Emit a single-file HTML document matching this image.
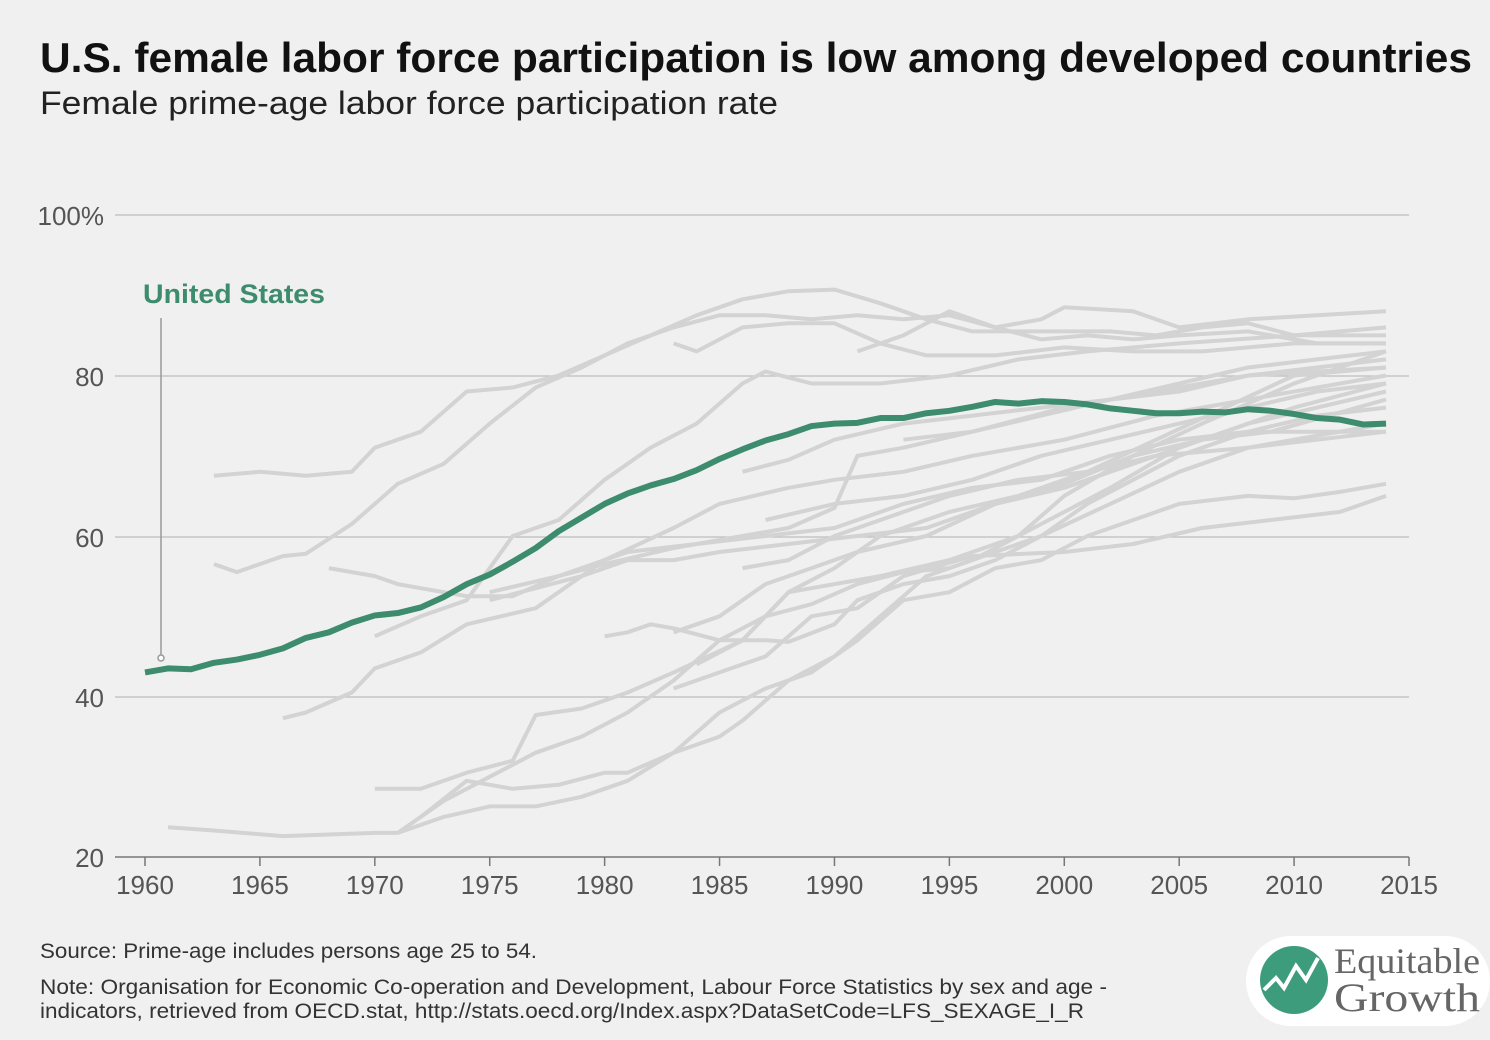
<!DOCTYPE html>
<html><head><meta charset="utf-8"><style>
body{margin:0;background:#f0f0f0;width:1490px;height:1040px;overflow:hidden;font-family:"Liberation Sans",sans-serif}
</style></head><body>
<svg id="s" width="1490" height="1040" xmlns="http://www.w3.org/2000/svg" style="position:absolute;left:0;top:0">
<text x="40" y="72" font-size="42" font-weight="bold" fill="#111" textLength="1432" lengthAdjust="spacingAndGlyphs">U.S. female labor force participation is low among developed countries</text>
<text x="40" y="114" font-size="32" fill="#222" textLength="738" lengthAdjust="spacingAndGlyphs">Female prime-age labor force participation rate</text>
<g stroke="#bdbdbd" stroke-width="1.2">
<line x1="115" x2="1409" y1="215" y2="215"/><line x1="115" x2="1409" y1="376" y2="376"/>
<line x1="115" x2="1409" y1="537" y2="537"/><line x1="115" x2="1409" y1="697" y2="697"/>
</g>
<g font-size="26" fill="#555" text-anchor="end">
<text x="104" y="225">100%</text><text x="104" y="386">80</text><text x="104" y="547">60</text><text x="104" y="707">40</text><text x="104" y="867">20</text>
</g>
<g id="grey" fill="none" stroke="#d3d3d3" stroke-width="4" stroke-linejoin="round"></g>
<line x1="161" y1="318" x2="161" y2="655" stroke="#999" stroke-width="1.5"/>
<circle cx="161" cy="658" r="3" fill="#fff" stroke="#999" stroke-width="1.5"/>
<text x="143" y="303" font-size="27" font-weight="bold" fill="#3d8c6e" textLength="182" lengthAdjust="spacingAndGlyphs">United States</text>
<polyline id="us" fill="none" stroke="#3d8c6e" stroke-width="6" stroke-linejoin="round"/>
<line x1="115" x2="1409" y1="857" y2="857" stroke="#777" stroke-width="1.5"/>
<g id="xt" font-size="26" fill="#555" text-anchor="middle"></g>
<text x="40" y="958" font-size="21" fill="#333" textLength="497" lengthAdjust="spacingAndGlyphs">Source: Prime-age includes persons age 25 to 54.</text>
<text x="40" y="994" font-size="21" fill="#333" textLength="1067" lengthAdjust="spacingAndGlyphs">Note: Organisation for Economic Co-operation and Development, Labour Force Statistics by sex and age -</text>
<text x="40" y="1018" font-size="21" fill="#333" textLength="1044" lengthAdjust="spacingAndGlyphs">indicators, retrieved from OECD.stat, http://stats.oecd.org/Index.aspx?DataSetCode=LFS_SEXAGE_I_R</text>
<rect x="1246" y="936" width="244" height="90" rx="45" fill="#fff"/>
<circle cx="1294" cy="980" r="34" fill="#3d9c7c"/>
<polyline points="1264,990 1276,978 1284,988 1296,966 1306,980 1318,958" fill="none" stroke="#fff" stroke-width="4"/>
<text x="1334" y="973" font-family="Liberation Serif,serif" font-size="36" fill="#666" textLength="146" lengthAdjust="spacingAndGlyphs">Equitable</text>
<text x="1334" y="1011" font-family="Liberation Serif,serif" font-size="40" fill="#666" textLength="146" lengthAdjust="spacingAndGlyphs">Growth</text>
</svg>
<script>
var X=y=>145+(y-1960)*22.982,Y=v=>857-(v-20)*8.025;
var us=[43,43.5,43.4,44.2,44.6,45.2,46,47.3,48,49.2,50.1,50.4,51.1,52.4,54,55.2,56.8,58.5,60.6,62.3,64,65.3,66.3,67.1,68.2,69.6,70.8,71.9,72.7,73.7,74,74.1,74.7,74.7,75.3,75.6,76.1,76.7,76.5,76.8,76.7,76.4,75.9,75.6,75.3,75.3,75.5,75.4,75.8,75.6,75.2,74.7,74.5,73.9,74];
document.getElementById('us').setAttribute('points',us.map((v,i)=>X(1960+i)+','+Y(v)).join(' '));
var G=[
[1963,67.5,1965,68,1967,67.5,1969,68,1970,71,1972,73,1974,78,1976,78.5,1978,80,1980,82.5,1982,85,1984,87.5,1986,89.5,1988,90.5,1990,90.7,1992,89,1994,87,1996,85.5,1998,85.5,2000,85.5,2002,85.5,2004,85,2006,86,2008,86.5,2010,85,2014,85],
[1963,56.5,1964,55.5,1966,57.5,1967,57.8,1969,61.5,1971,66.5,1973,69,1975,74,1977,78.5,1979,81,1981,84,1983,86,1985,87.5,1987,87.5,1989,87,1991,87.5,1993,87,1995,87.5,1997,86,1999,84.5,2001,85,2003,84.5,2005,85,2008,85.5,2011,84,2014,84],
[1966,37.3,1967,38,1969,40.5,1970,43.5,1972,45.5,1974,49,1977,51,1980,57,1983,61,1985,64,1988,66,1990,67,1993,68,1996,70,2000,72,2004,75,2008,77,2014,80],
[1968,56,1970,55,1971,54,1972,53.5,1974,52.5,1976,52.5,1978,55,1980,56.5,1983,58.5,1986,60,1988,61,1990,63.5,1991,70,1993,71,1996,73,2000,76,2004,78,2008,80,2014,81],
[1970,47.5,1972,50,1974,52,1976,60,1978,62,1980,67,1982,71,1984,74,1986,79,1987,80.5,1989,79,1992,79,1995,80,1998,82,2001,83,2005,84,2010,85,2014,86],
[1961,23.7,1963,23.3,1966,22.6,1970,23,1971,23,1973,27,1975,30,1977,33,1979,35,1981,38,1983,42,1985,47,1987,50,1989,51.5,1991,54,1993,55.5,1995,56,1997,58,1999,60,2001,64,2003,67,2005,70,2008,73,2011,75,2014,76],
[1970,28.5,1972,28.5,1974,30.5,1976,32,1977,37.7,1979,38.5,1981,40.5,1983,43,1986,47,1988,53,1990,54,1992,55,1995,57,1998,60,2000,65,2003,70,2006,74,2010,79,2014,83],
[1972,25,1974,29.5,1976,28.5,1978,29,1980,30.5,1981,30.5,1983,33,1985,35,1986,37,1988,42,1990,45,1992,50,1994,55,1996,57,1998,60,2000,63,2002,66,2005,71,2008,74,2014,78],
[1971,23,1973,25,1975,26.3,1977,26.3,1979,27.5,1981,29.5,1983,33,1985,38,1987,41,1989,43,1991,47,1993,52,1995,53,1997,56,1999,57,2001,60,2003,62,2005,64,2008,65,2010,64.7,2012,65.5,2014,66.5],
[1980,47.5,1981,48,1982,49,1983,48.5,1985,47,1987,47,1988,46.8,1990,49,1991,52,1993,54,1995,55,1997,57,1999,60,2002,64,2005,68,2008,71,2014,74],
[1983,41,1985,43,1987,45,1989,50,1991,51,1993,55,1996,57.5,2000,58,2003,59,2006,61,2009,62,2012,63,2014,65],
[1983,84,1984,83,1986,86,1988,86.5,1990,86.5,1992,84,1994,82.5,1997,82.5,2000,83.5,2003,83,2006,83,2010,84,2014,84],
[1986,68,1988,69.5,1990,72,1993,74,1996,75,1999,76,2002,77,2005,78,2008,80,2011,81,2014,82],
[1986,56,1988,57,1990,60,1992,62,1995,65,1998,67,2001,68,2004,72,2007,76,2010,80,2014,81],
[1975,53,1978,55,1981,58,1984,59,1987,60,1990,61,1993,64,1996,66,1999,67,2002,70,2005,72,2008,73,2011,73,2014,73],
[1991,83,1993,85,1995,88,1997,86,1999,87,2000,88.5,2003,88,2005,86,2008,87,2011,87.5,2014,88],
[1983,48,1985,50,1987,54,1989,56,1991,58,1994,60,1997,64,2000,66.5,2003,70,2006,72,2009,73,2014,77],
[1984,44,1986,47,1988,53,1990,56,1992,60,1995,63,1998,65,2001,68,2004,70,2008,71,2014,73],
[1987,62,1990,64,1993,65,1996,67,1999,70,2002,72,2005,74,2008,76,2011,78,2014,79],
[1993,72,1996,73,1999,75,2002,77,2005,79,2008,81,2011,82,2014,83],
[1975,52,1977,53.5,1979,55,1981,57,1983,57,1985,58,1988,59,1991,60,1994,61,1997,64,2000,66,2003,69,2007,73,2010,76,2014,79]];
var g=document.getElementById('grey'),h='';
G.forEach(a=>{var p=[];for(var i=0;i<a.length;i+=2)p.push(X(a[i]).toFixed(1)+','+Y(a[i+1]).toFixed(1));h+='<polyline points="'+p.join(' ')+'"/>';});
g.innerHTML=h;
var t='';for(var y=1960;y<=2015;y+=5){var x=X(y);t+='<line x1="'+x+'" x2="'+x+'" y1="857" y2="866" stroke="#777" stroke-width="1.5"/><text x="'+x+'" y="894">'+y+'</text>';}
document.getElementById('xt').innerHTML=t;
</script>
</body></html>
